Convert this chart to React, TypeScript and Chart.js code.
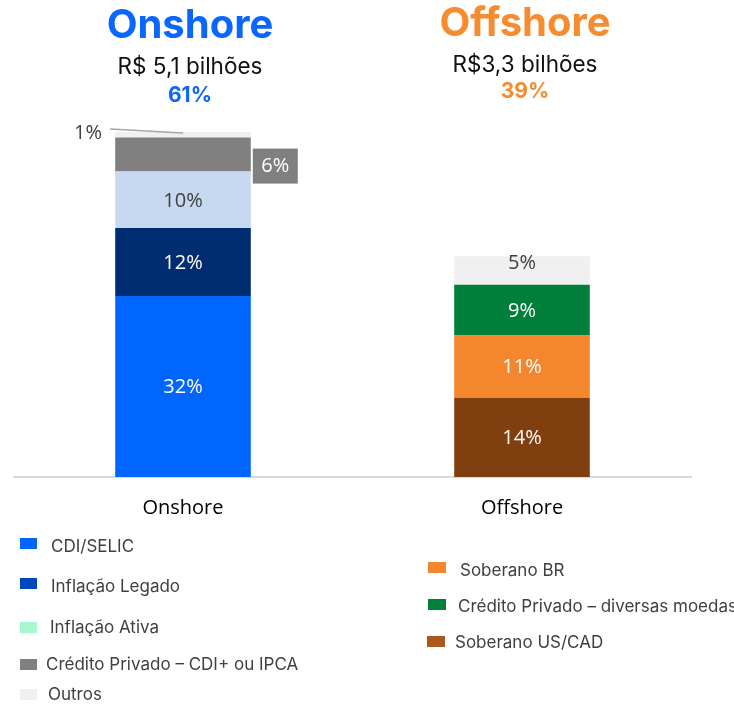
import React, { useEffect, useRef } from 'react';
import { Chart, registerables } from 'chart.js';

Chart.register(...registerables);

// ---- Data ----
const categories = ['Onshore', 'Offshore'];
const cdiSelic = [32, null];
const inflacaoLegado = [12, null];
const inflacaoAtiva = [10, null];
const creditoCdiIpca = [6, null];
const soberanoUsCad = [null, 14];
const soberanoBr = [null, 11];
const creditoMoedas = [null, 9];
const outros = [1, 5];

const groupTitles = ['Onshore', 'Offshore'];
const groupAmounts = ['R$ 5,1 bilhões', 'R$3,3 bilhões'];
const groupShares = ['61%', '39%'];

const onshoreLegendLabels = ['CDI/SELIC', 'Inflação Legado', 'Inflação Ativa', 'Crédito Privado – CDI+ ou IPCA', 'Outros'];
const onshoreLegendColors = ['#0066FF', '#0047BB', '#A8F7CF', '#808080', '#F0F0F0'];
const offshoreLegendLabels = ['Soberano BR', 'Crédito Privado – diversas moedas', 'Soberano US/CAD'];
const offshoreLegendColors = ['#F5862D', '#007F3D', '#AB5A1F'];

// ---- Styles ----
const BLUE = '#0A66FF';
const ORANGE = '#F68B2F';
const LABEL_FONT = '"Open Sans", "DejaVu Sans", sans-serif';
const UI_FONT = 'Inter, "Noto Sans", sans-serif';

const labelPlugin = {
  id: 'segLabels',
  afterDatasetsDraw(chart: any) {
    const ctx = chart.ctx;
    ctx.save();
    ctx.font = `20px ${LABEL_FONT}`;
    chart.data.datasets.forEach((ds: any, di: number) => {
      const meta = chart.getDatasetMeta(di);
      meta.data.forEach((el: any, i: number) => {
        const v = ds.data[i];
        if (v == null) return;
        const p = el.getProps(['x', 'y', 'base', 'width'], true);
        const top = Math.min(p.y, p.base);
        const bottom = Math.max(p.y, p.base);
        const mid = (top + bottom) / 2;
        const text = `${v}%`;
        const mode = ds.labelModes ? ds.labelModes[i] : 'inside';
        const off = ds.labelOffsets ? ds.labelOffsets[i] : 0;
        if (mode === 'box') {
          const bx = p.x + p.width / 2 + 2;
          const by = top + 11;
          ctx.fillStyle = ds.backgroundColor;
          ctx.fillRect(bx, by, 45, 35);
          ctx.fillStyle = '#FFFFFF';
          ctx.textAlign = 'center';
          ctx.textBaseline = 'middle';
          ctx.fillText(text, bx + 22.5, by + 18);
        } else if (mode === 'leader') {
          ctx.strokeStyle = '#A6A6A6';
          ctx.lineWidth = 1.5;
          ctx.beginPath();
          ctx.moveTo(p.x - 73, top - 3);
          ctx.lineTo(p.x, top + 1);
          ctx.stroke();
          ctx.fillStyle = '#404040';
          ctx.textAlign = 'right';
          ctx.textBaseline = 'middle';
          ctx.fillText(text, p.x - 81, top + 1);
        } else {
          ctx.fillStyle = ds.labelColor;
          ctx.textAlign = 'center';
          ctx.textBaseline = 'middle';
          ctx.fillText(text, p.x, mid + off + 1);
        }
      });
    });
    ctx.restore();
  },
};

export default function App() {
  const canvasRef = useRef<HTMLCanvasElement | null>(null);

  useEffect(() => {
    if (!canvasRef.current) return;
    const chart = new Chart(canvasRef.current, {
      type: 'bar',
      data: {
        labels: categories,
        datasets: [
          { label: 'CDI/SELIC', data: cdiSelic, backgroundColor: '#0066FF', labelColor: '#FFFFFF' },
          { label: 'Inflação Legado', data: inflacaoLegado, backgroundColor: '#002D72', labelColor: '#FFFFFF' },
          { label: 'Inflação Ativa', data: inflacaoAtiva, backgroundColor: '#C6D9F0', labelColor: '#404040' },
          { label: 'Crédito Privado – CDI+ ou IPCA', data: creditoCdiIpca, backgroundColor: '#808080', labelColor: '#FFFFFF', labelModes: ['box', 'box'] },
          { label: 'Soberano US/CAD', data: soberanoUsCad, backgroundColor: '#7F3F0F', labelColor: '#FFFFFF' },
          { label: 'Soberano BR', data: soberanoBr, backgroundColor: '#F4862D', labelColor: '#FFFFFF' },
          { label: 'Crédito Privado – diversas moedas', data: creditoMoedas, backgroundColor: '#007F3B', labelColor: '#FFFFFF' },
          { label: 'Outros', data: outros, backgroundColor: '#F0F0F0', labelColor: '#404040', labelModes: ['leader', 'inside'], labelOffsets: [0, -8] },
        ] as any,
      },
      options: {
        responsive: false,
        animation: false,
        events: [],
        layout: { padding: { top: 81, left: 13.5, right: 42.5, bottom: 166 } },
        plugins: { legend: { display: false }, tooltip: { enabled: false } },
        datasets: { bar: { categoryPercentage: 0.4, barPercentage: 1 } },
        scales: {
          x: {
            stacked: true,
            grid: { display: true, drawOnChartArea: false, drawTicks: false },
            border: { display: true, color: '#D9D9D9', width: 2 },
            ticks: { color: '#000000', font: { family: LABEL_FONT, size: 20 }, padding: 19 },
          },
          y: { stacked: true, display: false, min: 0, max: 70 },
        },
      } as any,
      plugins: [labelPlugin],
    });
    return () => chart.destroy();
  }, []);

  const centers = [190, 525];
  const titleTops = [0, -2];
  const amountTops = [52, 50];
  const shareTops = [82, 78];
  const colors = [BLUE, ORANGE];

  const leftLegendPos = [
    { sq: 538, tx: 51, cy: 546 },
    { sq: 578, tx: 51, cy: 586 },
    { sq: 622, tx: 50, cy: 627 },
    { sq: 659, tx: 46, cy: 664 },
    { sq: 689, tx: 48, cy: 694 },
  ];
  const rightLegendPos = [
    { sq: 562, sx: 428, tx: 460, cy: 570 },
    { sq: 599, sx: 428, tx: 458, cy: 606 },
    { sq: 636, sx: 427, tx: 455, cy: 642 },
  ];

  return (
    <div style={{ position: 'absolute', left: 0, top: 0, width: 734, height: 705, background: '#FFFFFF', overflow: 'hidden', fontFamily: UI_FONT }}>
      <canvas ref={canvasRef} width={734} height={705} style={{ position: 'absolute', left: 0, top: 0 }} />
      {groupTitles.map((t, i) => (
        <React.Fragment key={t}>
          <div style={{ position: 'absolute', left: centers[i] - 150, width: 300, top: titleTops[i], textAlign: 'center', fontSize: 40, lineHeight: '48px', fontWeight: 700, color: colors[i] }}>{t}</div>
          <div style={{ position: 'absolute', left: centers[i] - 150, width: 300, top: amountTops[i], textAlign: 'center', fontSize: 22.5, lineHeight: '27px', fontWeight: 400, color: '#111111' }}>{groupAmounts[i]}</div>
          <div style={{ position: 'absolute', left: centers[i] - 150, width: 300, top: shareTops[i], textAlign: 'center', fontSize: 21, lineHeight: '25px', fontWeight: 700, color: colors[i] }}>{groupShares[i]}</div>
        </React.Fragment>
      ))}
      {onshoreLegendLabels.map((l, i) => (
        <React.Fragment key={l}>
          <div style={{ position: 'absolute', left: 20, top: leftLegendPos[i].sq, width: 17, height: 11, background: onshoreLegendColors[i] }} />
          <div style={{ position: 'absolute', left: leftLegendPos[i].tx, top: leftLegendPos[i].cy - 10.2, fontSize: 17, lineHeight: '20.4px', color: '#404040', whiteSpace: 'nowrap' }}>{l}</div>
        </React.Fragment>
      ))}
      {offshoreLegendLabels.map((l, i) => (
        <React.Fragment key={l}>
          <div style={{ position: 'absolute', left: rightLegendPos[i].sx, top: rightLegendPos[i].sq, width: 18, height: 11, background: offshoreLegendColors[i] }} />
          <div style={{ position: 'absolute', left: rightLegendPos[i].tx, top: rightLegendPos[i].cy - 10.2, fontSize: 17, lineHeight: '20.4px', color: '#404040', whiteSpace: 'nowrap' }}>{l}</div>
        </React.Fragment>
      ))}
    </div>
  );
}
